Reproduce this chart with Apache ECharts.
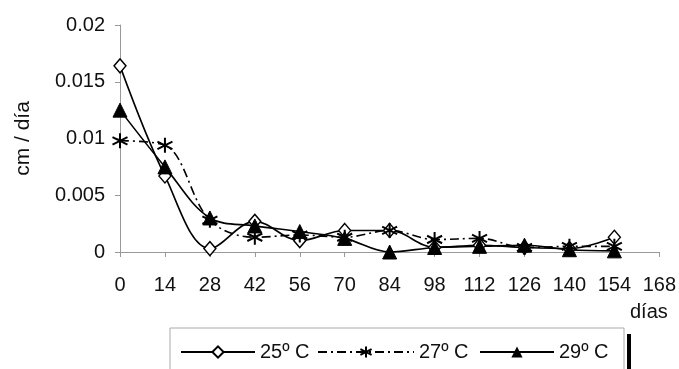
<!DOCTYPE html>
<html><head><meta charset="utf-8">
<script src="https://cdn.jsdelivr.net/npm/echarts@6/dist/echarts.min.js"></script>
<style>html,body{margin:0;padding:0;background:#fff}#c{width:679px;height:369px}</style>
</head><body><div id="c"></div>
<script>
const days = [0,14,28,42,56,70,84,98,112,126,140,154];
const t25 = [0.0164,0.0067,0.0003,0.0027,0.0010,0.0019,0.0019,0.0004,0.0006,0.0004,0.0003,0.0013];
const t27 = [0.0098,0.0094,0.0028,0.0013,0.0015,0.0013,0.0019,0.0011,0.0012,0.0004,0.0005,0.0005];
const t29 = [0.0125,0.0075,0.0030,0.0023,0.0018,0.0012,0.0000,0.0004,0.0005,0.0006,0.0002,0.0001];
const seriesNames = ['25º C','27º C','29º C'];
const yTicks = ['0','0.005','0.01','0.015','0.02'];

const F = 'Liberation Sans, Arial, sans-serif';
const pair = arr => days.map((d,i)=>[d,arr[i]]);
const star = 'path://M0,-10L0,10M-8.7,-5L8.7,5M-8.7,5L8.7,-5';
const lg = (name,left,w) => ({left:left,top:337,itemWidth:w,itemHeight:14,itemGap:0,
    textStyle:{color:'#111',fontSize:20,fontFamily:F},data:[name]});
const chart = echarts.init(document.getElementById('c'));
chart.setOption({
  animation:false,
  backgroundColor:'#fff',
  grid:{left:120,right:19,top:25,bottom:117},
  xAxis:{type:'value',min:0,max:168,interval:14,
    axisLine:{lineStyle:{color:'#999',width:1}},
    axisTick:{show:true,length:5,lineStyle:{color:'#999'}},
    splitLine:{show:false},
    axisLabel:{color:'#111',fontSize:20,fontFamily:F,margin:23}},
  yAxis:{type:'value',min:0,max:0.02,interval:0.005,
    name:'cm / día',nameLocation:'middle',nameGap:86,nameRotate:90,
    nameTextStyle:{color:'#111',fontSize:21,fontFamily:F},
    axisLine:{show:true,lineStyle:{color:'#999',width:1}},
    axisTick:{show:true,length:5,lineStyle:{color:'#999'}},
    splitLine:{show:false},
    axisLabel:{color:'#111',fontSize:20,fontFamily:F,margin:15,
      formatter:(v)=>{const i=Math.round(v/0.005);return yTicks[i]!==undefined?yTicks[i]:'';}}},
  legend:[lg(seriesNames[0],175,74),lg(seriesNames[1],312,96),lg(seriesNames[2],474,74)],
  graphic:[
    {type:'rect',shape:{x:170,y:328,width:454,height:70},style:{fill:'none',stroke:'#aaa',lineWidth:1},z:-1},
    {type:'rect',shape:{x:627,y:334,width:4,height:40},style:{fill:'#000'}},
    {type:'text',left:630,top:302,style:{text:'días',fill:'#111',font:'20px '+F}}
  ],
  series:[
    {name:seriesNames[0],type:'line',data:pair(t25),smooth:0.35,symbol:'diamond',symbolSize:[12,14],
      lineStyle:{color:'#000',width:1.6},itemStyle:{color:'#fff',borderColor:'#000',borderWidth:1.4}},
    {name:seriesNames[1],type:'line',data:pair(t27),smooth:0.35,symbol:star,symbolSize:15,
      lineStyle:{color:'#000',width:1.6,type:[9,4,2,4]},itemStyle:{color:'transparent',borderColor:'#000',borderWidth:2}},
    {name:seriesNames[2],type:'line',data:pair(t29),smooth:0.35,symbol:'triangle',symbolSize:14,
      lineStyle:{color:'#000',width:1.6},itemStyle:{color:'#000',borderColor:'#000'}}
  ]
});
</script></body></html>
